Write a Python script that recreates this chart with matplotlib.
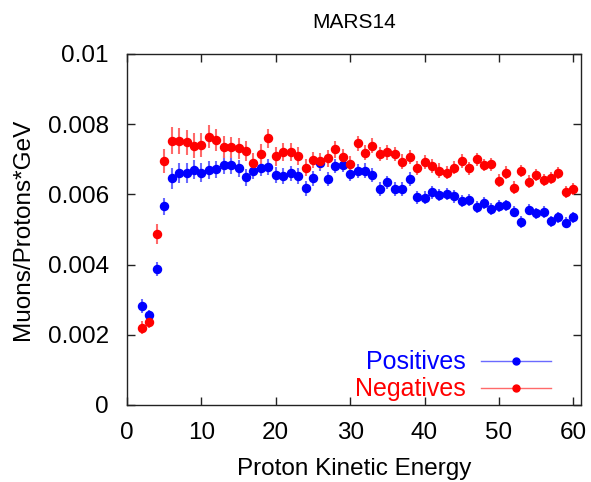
import matplotlib
matplotlib.use("Agg")
import matplotlib.pyplot as plt
from matplotlib.lines import Line2D
import numpy as np

plt.rcParams['font.family'] = ['Liberation Sans', 'DejaVu Sans']

# proton kinetic energy (GeV)
energy = list(range(2, 61))

# muons / protons*GeV, in units of 1e-3
positives = [2.82, 2.56, 3.87, 5.66, 6.46, 6.60, 6.60, 6.70, 6.62, 6.70,
             6.71, 6.84, 6.84, 6.74, 6.49, 6.68, 6.74, 6.79, 6.55, 6.53,
             6.60, 6.52, 6.17, 6.46, 6.88, 6.44, 6.81, 6.84, 6.58, 6.67,
             6.68, 6.55, 6.15, 6.34, 6.15, 6.15, 6.44, 5.92, 5.91, 6.06,
             5.98, 6.01, 5.94, 5.81, 5.84, 5.65, 5.75, 5.58, 5.67, 5.69,
             5.51, 5.21, 5.56, 5.46, 5.50, 5.23, 5.35, 5.19, 5.35]
negatives = [2.20, 2.35, 4.88, 6.95, 7.53, 7.53, 7.48, 7.39, 7.41, 7.64,
             7.55, 7.34, 7.34, 7.31, 7.24, 6.89, 7.15, 7.60, 7.09, 7.20,
             7.20, 7.09, 6.76, 6.98, 6.95, 7.03, 7.28, 7.07, 6.87, 7.45,
             7.19, 7.39, 7.15, 7.20, 7.15, 6.93, 7.07, 6.76, 6.91, 6.82,
             6.68, 6.62, 6.76, 6.95, 6.74, 7.00, 6.84, 6.86, 6.39, 6.62,
             6.19, 6.67, 6.36, 6.55, 6.41, 6.46, 6.62, 6.07, 6.16]

# error bars (same units)
pos_err = [0.20, 0.15, 0.20, 0.25, 0.30, 0.28, 0.28, 0.27, 0.26, 0.26,
           0.25, 0.25, 0.25, 0.24, 0.24, 0.24, 0.23, 0.23, 0.23, 0.22,
           0.22, 0.22, 0.22, 0.21, 0.21, 0.21, 0.21, 0.20, 0.20, 0.20,
           0.20, 0.20, 0.19, 0.19, 0.19, 0.19, 0.19, 0.18, 0.18, 0.18,
           0.18, 0.18, 0.18, 0.17, 0.17, 0.17, 0.17, 0.17, 0.17, 0.16,
           0.16, 0.16, 0.16, 0.16, 0.16, 0.16, 0.16, 0.16, 0.16]
neg_err = [0.18, 0.15, 0.28, 0.35, 0.38, 0.37, 0.36, 0.35, 0.34, 0.33,
           0.32, 0.31, 0.30, 0.30, 0.29, 0.28, 0.28, 0.27, 0.27, 0.26,
           0.26, 0.25, 0.25, 0.24, 0.24, 0.24, 0.23, 0.23, 0.23, 0.22,
           0.22, 0.22, 0.21, 0.21, 0.21, 0.21, 0.20, 0.20, 0.20, 0.20,
           0.20, 0.19, 0.19, 0.19, 0.19, 0.19, 0.18, 0.18, 0.18, 0.18,
           0.18, 0.18, 0.18, 0.17, 0.17, 0.17, 0.17, 0.17, 0.17]

x_ticks = [0, 10, 20, 30, 40, 50, 60]
y_ticks = [0, 0.002, 0.004, 0.006, 0.008, 0.01]
y_tick_labels = ['0', '0.002', '0.004', '0.006', '0.008', '0.01']

scale = 1e-3
pos = np.array(positives) * scale
neg = np.array(negatives) * scale
perr = np.array(pos_err) * scale
nerr = np.array(neg_err) * scale

fig = plt.figure(figsize=(5.91, 4.82), dpi=100)
ax = fig.add_axes([0.2149, 0.1598, 0.7677, 0.7282])

ax.errorbar(energy, pos, yerr=perr, fmt='o', color='#0000ff', ms=5.8,
            ecolor='#6a6aff', elinewidth=1.5, capsize=0, zorder=3)
ax.errorbar(energy, neg, yerr=nerr, fmt='o', color='#ff0000', ms=5.8,
            ecolor='#ff6a6a', elinewidth=1.5, capsize=0, zorder=3)

ax.set_xlim(0, 61)
ax.set_ylim(0, 0.01)
ax.set_xticks(x_ticks)
ax.set_yticks(y_ticks)
ax.set_yticklabels(y_tick_labels)

ax.tick_params(direction='in', length=6, width=1, top=True, right=True,
               labelsize=17.5, color='#222222')
ax.tick_params(axis='y', pad=13)
ax.tick_params(axis='x', pad=12)
for s in ax.spines.values():
    s.set_linewidth(1.0)
    s.set_color('#222222')

ax.set_xlabel('Proton Kinetic Energy', fontsize=17.5, labelpad=10)
ax.set_ylabel('Muons/Protons*GeV', fontsize=17.5, labelpad=10)
ax.set_title('MARS14', fontsize=15, pad=19)

handles = [
    Line2D([], [], color='#6a6aff', lw=1, marker='o', ms=5,
           mfc='#0000ff', mec='#0000ff'),
    Line2D([], [], color='#ff6a6a', lw=1, marker='o', ms=5,
           mfc='#ff0000', mec='#ff0000'),
]
leg = ax.legend(handles, ['Positives', 'Negatives'], loc='lower right',
                bbox_to_anchor=(0.934, 0.01), frameon=False, fontsize=18,
                markerfirst=False, handlelength=2.8, handletextpad=0.6,
                labelspacing=0.12, borderpad=0, borderaxespad=0)
for txt, c in zip(leg.get_texts(), ['#0000ff', '#ff0000']):
    txt.set_color(c)

fig.savefig('out.png', dpi=100)
